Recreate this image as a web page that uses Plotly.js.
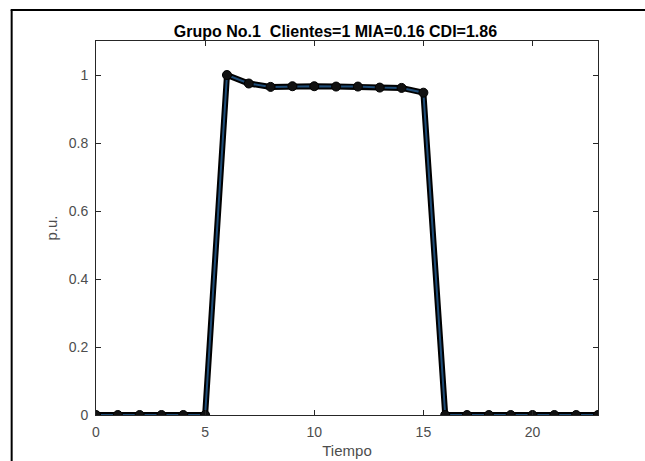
<!DOCTYPE html>
<html>
<head>
<meta charset="utf-8">
<script src="https://cdn.plot.ly/plotly-3.0.1.min.js"></script>
<style>
  html, body { margin: 0; padding: 0; background: #fff; }
  #chart { width: 645px; height: 461px; }
</style>
</head>
<body>
<div id="chart"></div>
<script>
const hours = [0,1,2,3,4,5,6,7,8,9,10,11,12,13,14,15,16,17,18,19,20,21,22,23];
const load = [0,0,0,0,0,0,1.0,0.975,0.965,0.967,0.967,0.966,0.966,0.963,0.962,0.948,0,0,0,0,0,0,0,0];
const xTicks = [0,5,10,15,20];
const yTicks = [0,0.2,0.4,0.6,0.8,1];
const titleText = "Grupo No.1\u00a0\u00a0Clientes=1 MIA=0.16 CDI=1.86";

const FONT = 'Liberation Sans, Arial, sans-serif';

const traces = [
  { x: hours, y: load, type: 'scatter', mode: 'lines',
    line: { color: '#000000', width: 6 }, hoverinfo: 'skip', showlegend: false },
  { x: hours, y: load, type: 'scatter', mode: 'lines+markers',
    line: { color: '#1f4d78', width: 2 },
    marker: { symbol: 'circle', size: 9, color: '#111111', line: { color: '#000', width: 1 } },
    showlegend: false }
];

const axisCommon = {
  showline: true, linecolor: '#262626', linewidth: 1, mirror: 'ticks',
  ticks: 'inside', ticklen: 5, tickcolor: '#262626', showgrid: false, zeroline: false,
  tickfont: { family: FONT, size: 14, color: '#4d4d4d' }
};

const layout = {
  width: 645, height: 461,
  margin: { l: 96, r: 47, t: 41, b: 46 },
  paper_bgcolor: '#ffffff', plot_bgcolor: '#ffffff',
  title: { text: titleText, x: 0.477, xref: 'paper', xanchor: 'center', y: 1 - 31 / 461, yref: 'container', yanchor: 'middle',
    font: { family: FONT, size: 16, color: '#000', weight: 'bold' } },
  xaxis: Object.assign({}, axisCommon, { range: [0, 23], tickvals: xTicks, ticktext: xTicks.map(String),
    ticklabelstandoff: 4,
    title: { text: 'Tiempo', standoff: 6, font: { family: FONT, size: 15, color: '#4d4d4d' } } }),
  yaxis: Object.assign({}, axisCommon, { range: [0, 1.1], tickvals: yTicks, ticktext: yTicks.map(String),
    ticklabelstandoff: 4,
    title: { text: 'p.u.', standoff: 7, font: { family: FONT, size: 15, color: '#4d4d4d' } } }),
  shapes: [
    { type: 'line', xref: 'paper', yref: 'paper', x0: -0.17, x1: 1.2, y0: 1.083, y1: 1.083, line: { color: '#000', width: 2 } },
    { type: 'line', xref: 'paper', yref: 'paper', x0: -0.168, x1: -0.168, y0: 1.083, y1: -0.2, line: { color: '#000', width: 2 } }
  ]
};

Plotly.newPlot('chart', traces, layout, { displayModeBar: false, staticPlot: true });
</script>
</body>
</html>
